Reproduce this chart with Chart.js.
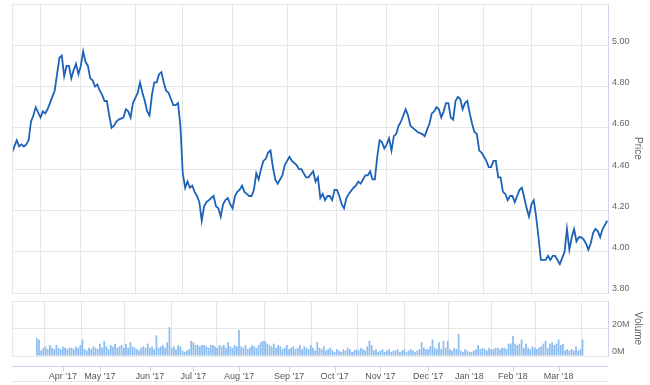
<!DOCTYPE html>
<html><head><meta charset="utf-8">
<script src="https://cdn.jsdelivr.net/npm/chart.js@4"></script>
<style>
html,body{margin:0;padding:0;background:#fff;}
#wrap{position:relative;width:650px;height:385px;overflow:hidden;background:#fff;}
#c1{position:absolute;left:0;top:0;}
#c2{position:absolute;left:0;top:296px;}
</style></head><body>
<div id="wrap">
<canvas id="c1" width="650" height="294"></canvas>
<canvas id="c2" width="650" height="89"></canvas>
</div>
<script>
// trading-day index of each price reading
const priceDays = [0,2,3,4,5,6,7,8,9,10,12,13,14,15,17,18,19,20,21,22,23,24,25,26,27,28,29,30,31,32,33,34,35,36,37,38,39,40,41,42,43,44,45,47,48,49,50,51,53,54,55,56,57,58,59,60,61,62,63,64,65,66,68,69,70,71,72,73,74,75,76,77,78,79,80,81,82,83,84,85,86,87,88,89,90,91,92,93,94,95,96,97,98,99,100,101,102,103,104,105,106,107,108,109,110,111,112,114,115,116,117,118,120,121,122,123,124,125,127,128,129,130,131,132,133,134,135,136,137,138,139,140,141,142,144,145,146,147,148,149,150,151,152,153,154,155,156,157,158,159,160,161,162,163,164,165,166,167,168,169,170,171,173,174,175,176,177,178,179,180,181,182,183,184,185,186,187,188,189,190,191,192,193,194,195,196,197,198,199,200,201,202,203,204,205,206,207,208,209,210,211,212,213,214,215,216,217,218,219,220,221,222,223,224,225,226,227,228,229,230,231,232,233,234,235,236,237,238,239,240,241,242,243,244,245,246,247,248,249,250,251];
const prices = [4.48,4.54,4.51,4.52,4.51,4.52,4.54,4.63,4.66,4.70,4.65,4.68,4.67,4.69,4.75,4.78,4.86,4.94,4.95,4.85,4.90,4.90,4.84,4.88,4.91,4.86,4.90,4.97,4.92,4.90,4.84,4.83,4.80,4.81,4.78,4.76,4.73,4.73,4.66,4.60,4.61,4.63,4.64,4.65,4.69,4.68,4.65,4.72,4.77,4.82,4.77,4.73,4.68,4.66,4.76,4.82,4.82,4.86,4.87,4.82,4.78,4.77,4.71,4.71,4.72,4.61,4.38,4.31,4.34,4.31,4.32,4.29,4.27,4.24,4.15,4.22,4.24,4.25,4.26,4.27,4.22,4.21,4.17,4.23,4.25,4.26,4.23,4.21,4.27,4.29,4.30,4.32,4.29,4.28,4.27,4.27,4.30,4.38,4.35,4.40,4.44,4.45,4.48,4.49,4.41,4.35,4.33,4.37,4.42,4.44,4.46,4.44,4.42,4.40,4.40,4.38,4.36,4.36,4.39,4.34,4.36,4.26,4.28,4.25,4.27,4.27,4.25,4.30,4.30,4.27,4.23,4.21,4.26,4.28,4.31,4.32,4.34,4.33,4.35,4.37,4.37,4.39,4.35,4.35,4.46,4.54,4.53,4.50,4.52,4.55,4.49,4.56,4.57,4.61,4.63,4.66,4.69,4.66,4.61,4.60,4.59,4.58,4.57,4.56,4.59,4.62,4.67,4.68,4.70,4.69,4.65,4.68,4.72,4.72,4.65,4.64,4.73,4.75,4.74,4.69,4.72,4.73,4.67,4.62,4.58,4.57,4.49,4.48,4.46,4.44,4.41,4.41,4.44,4.44,4.36,4.36,4.29,4.28,4.25,4.27,4.27,4.24,4.27,4.30,4.31,4.26,4.21,4.17,4.23,4.25,4.17,4.07,3.96,3.96,3.96,3.98,3.96,3.98,3.98,3.96,3.94,3.97,4.00,4.11,4.01,4.07,4.11,4.05,4.07,4.07,4.06,4.04,4.01,4.04,4.09,4.11,4.10,4.07,4.11,4.13,4.15];
// daily volume, millions (one per trading day 0..251)
const volumeM = [13,12,4,6,7,5,8,6,5,8, 6,5,7,6,5,6,6,5,7,6, 8,12,5,4,6,5,7,6,5,9, 6,11,7,5,8,7,9,6,7,8, 6,9,6,10,7,6,5,4,6,7,
 6,9,6,7,5,15,6,7,8,6, 10,21,6,7,5,8,7,4,3,4, 5,11,10,8,8,7,8,8,7,6, 8,8,7,6,8,7,8,6,10,7, 6,8,7,19,7,6,8,5,6,8,
 7,6,8,10,11,11,9,8,7,9, 6,8,7,5,6,8,5,6,7,5, 6,8,5,7,6,5,8,6,4,10, 6,5,7,4,5,6,4,3,5,4, 3,5,4,6,5,3,4,5,4,6,
 5,4,7,11,8,4,5,3,4,5, 3,4,5,3,4,4,5,3,4,5, 3,4,5,4,3,4,5,10,6,5, 5,7,12,6,5,10,5,11,6,11, 5,4,6,5,16,4,3,5,4,3,
 3,4,5,8,5,6,5,4,6,5, 5,6,6,5,6,6,5,9,9,14.5, 9,8,9,12,6,9,6,5,7,6, 5,6,7,9,11,6,9,10,8,9, 12,8,9,4,5,4,5,4,7,4, 5,12];
const monthTickDays = [12,29,52,72,93,116,137,158,180,199,219,240];
const monthLabels = ["Apr '17","May '17","Jun '17","Jul '17","Aug '17","Sep '17","Oct '17","Nov '17","Dec '17","Jan '18","Feb '18","Mar '18"];
const priceRange = [3.8, 5.2], priceStep = 0.2;
const volRange = [0, 40], volStep = 20;

const FONT = "'Liberation Sans', Arial, Helvetica, sans-serif";
const GRID = '#e6e6e6', AXIS = '#ccd6eb', LABEL = '#666666';
const XMAX = 251.3;

const framePlugin = {
  id: 'frame',
  afterDraw(chart, args, opts) {
    const {ctx, chartArea: a} = chart;
    ctx.save();
    ctx.strokeStyle = GRID; ctx.lineWidth = 1;
    ctx.beginPath();
    ctx.moveTo(Math.round(a.left) + 0.5, a.top); ctx.lineTo(Math.round(a.left) + 0.5, a.bottom);
    ctx.stroke();
    if (opts.xline) {
      const y = Math.round(a.bottom) + 10.5;
      ctx.strokeStyle = AXIS;
      ctx.beginPath(); ctx.moveTo(a.left, y); ctx.lineTo(a.right, y); ctx.stroke();
      const xs = chart.scales.x;
      ctx.beginPath();
      xs.ticks.forEach((t, i) => { const px = Math.round(xs.getPixelForTick(i)) + 0.5; ctx.moveTo(px, y); ctx.lineTo(px, y + 5); });
      ctx.stroke();
      ctx.strokeStyle = GRID;
      const y2 = Math.round(a.bottom) + 25.5;
      ctx.beginPath(); ctx.moveTo(a.left, y2); ctx.lineTo(a.right, y2); ctx.stroke();
    }
    ctx.restore();
  }
};

function noPad(s) { s.paddingTop = 0; s.paddingBottom = 0; }

function monthAxis(showLabels) {
  return {
    type: 'linear', min: 0, max: XMAX,
    afterBuildTicks: s => { s.ticks = monthTickDays.map(v => ({value: v})); },
    ticks: {
      display: showLabels, autoSkip: false, maxRotation: 0, padding: 15,
      color: '#555555', font: {family: FONT, size: 9},
      callback: v => monthLabels[monthTickDays.indexOf(v)] || ''
    },
    grid: {color: GRID, drawTicks: false},
    border: {display: false},
    afterFit: s => { s.height = showLabels ? 29 : 0; s.paddingLeft = 0; s.paddingRight = 0; }
  };
}

new Chart(document.getElementById('c1'), {
  type: 'line',
  data: { datasets: [{
    label: 'Price',
    data: priceDays.map((d, i) => ({x: d, y: prices[i]})),
    borderColor: '#1d62b8', borderWidth: 1.8, pointRadius: 0, tension: 0, fill: false
  }]},
  options: {
    responsive: false, animation: false,
    layout: {padding: {left: 12, top: 4, right: 0, bottom: 1}},
    plugins: {legend: {display: false}, tooltip: {enabled: false}, frame: {xline: false}},
    scales: {
      x: monthAxis(false),
      y: {
        position: 'right', min: priceRange[0], max: priceRange[1],
        ticks: {stepSize: priceStep, padding: 4, labelOffset: -4, color: LABEL, font: {family: FONT, size: 9},
          callback: v => v > priceRange[1] - 0.01 ? '' : v.toFixed(2)},
        grid: {color: GRID, drawTicks: false},
        border: {display: true, color: AXIS},
        title: {display: true, text: 'Price', color: LABEL, font: {family: FONT, size: 10}, padding: {top: 6, bottom: 0}},
        afterFit: s => { s.width = 42; noPad(s); }
      }
    }
  },
  plugins: [framePlugin]
});

new Chart(document.getElementById('c2'), {
  type: 'bar',
  data: { datasets: [{
    label: 'Volume',
    data: volumeM.map((v, i) => ({x: i, y: v})),
    backgroundColor: '#8dbdf0', borderWidth: 0,
    barPercentage: 0.8, categoryPercentage: 1
  }]},
  options: {
    responsive: false, animation: false,
    layout: {padding: {left: 12, top: 5, right: 0, bottom: 0}},
    plugins: {legend: {display: false}, tooltip: {enabled: false}, frame: {xline: true}},
    scales: {
      x: monthAxis(true),
      y: {
        position: 'right', min: volRange[0], max: volRange[1],
        ticks: {stepSize: volStep, padding: 4, labelOffset: -4, color: LABEL, font: {family: FONT, size: 9},
          callback: v => v >= volRange[1] ? '' : v + 'M'},
        grid: {color: GRID, drawTicks: false},
        border: {display: true, color: AXIS},
        title: {display: true, text: 'Volume', color: LABEL, font: {family: FONT, size: 10}, padding: {top: 6, bottom: 0}},
        afterFit: s => { s.width = 42; noPad(s); }
      }
    }
  },
  plugins: [framePlugin]
});
</script>
</body></html>
